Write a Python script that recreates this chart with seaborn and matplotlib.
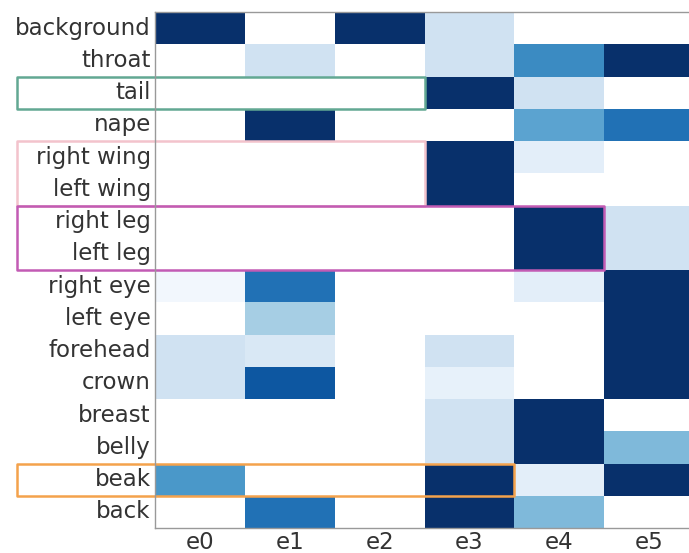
import numpy as np
import pandas as pd
import seaborn as sns
import matplotlib.pyplot as plt
from matplotlib.patches import Rectangle

parts = ['background', 'throat', 'tail', 'nape', 'right wing', 'left wing',
         'right leg', 'left leg', 'right eye', 'left eye', 'forehead', 'crown',
         'breast', 'belly', 'beak', 'back']
experts = ['e0', 'e1', 'e2', 'e3', 'e4', 'e5']

e0 = [1.0, 0.0, 0.0, 0.0, 0.0, 0.0, 0.0, 0.0, 0.03, 0.0, 0.2, 0.2, 0.0, 0.0, 0.6, 0.0]
e1 = [0.0, 0.2, 0.0, 1.0, 0.0, 0.0, 0.0, 0.0, 0.75, 0.35, 0.15, 0.85, 0.0, 0.0, 0.0, 0.75]
e2 = [1.0, 0.0, 0.0, 0.0, 0.0, 0.0, 0.0, 0.0, 0.0, 0.0, 0.0, 0.0, 0.0, 0.0, 0.0, 0.0]
e3 = [0.2, 0.2, 1.0, 0.0, 1.0, 1.0, 0.0, 0.0, 0.0, 0.0, 0.2, 0.08, 0.2, 0.2, 1.0, 1.0]
e4 = [0.0, 0.65, 0.2, 0.55, 0.1, 0.0, 1.0, 1.0, 0.1, 0.0, 0.0, 0.0, 1.0, 1.0, 0.1, 0.45]
e5 = [0.0, 1.0, 0.0, 0.75, 0.0, 0.0, 0.2, 0.2, 1.0, 1.0, 1.0, 1.0, 0.0, 0.45, 1.0, 0.0]

# highlighted groups: (first row, number of rows, last column + 1, colour)
boxes = [(2, 1, 3, '#62a893'), (4, 2, 3, '#f3c3cc'), (6, 2, 5, '#c25bb4'), (14, 1, 4, '#f4a24c')]

df = pd.DataFrame({'e0': e0, 'e1': e1, 'e2': e2, 'e3': e3, 'e4': e4, 'e5': e5}, index=parts)

cmap = plt.get_cmap('Blues').copy()
cmap.set_under('white')

fig = plt.figure(figsize=(6.89, 5.53), dpi=100)
ax = fig.add_axes([155 / 689, 25 / 553, 539 / 689, 516 / 553])
sns.heatmap(df, cmap=cmap, vmin=0.001, vmax=1, cbar=False, ax=ax)

for s in ['left', 'top', 'bottom']:
    ax.spines[s].set_visible(True)
    ax.spines[s].set_color('#999999')
    ax.spines[s].set_linewidth(1.0)

ax.tick_params(length=0, labelsize=16.5, colors='#333333')
ax.tick_params(axis='y', pad=3, rotation=0)
ax.tick_params(axis='x', pad=2)

x0 = -138 / 89.8
for row, n, col, c in boxes:
    ax.add_patch(Rectangle((x0, row), col - x0, n, fill=False, edgecolor=c,
                           linewidth=1.8, clip_on=False, joinstyle='round'))

fig.savefig('out.png', dpi=100)
